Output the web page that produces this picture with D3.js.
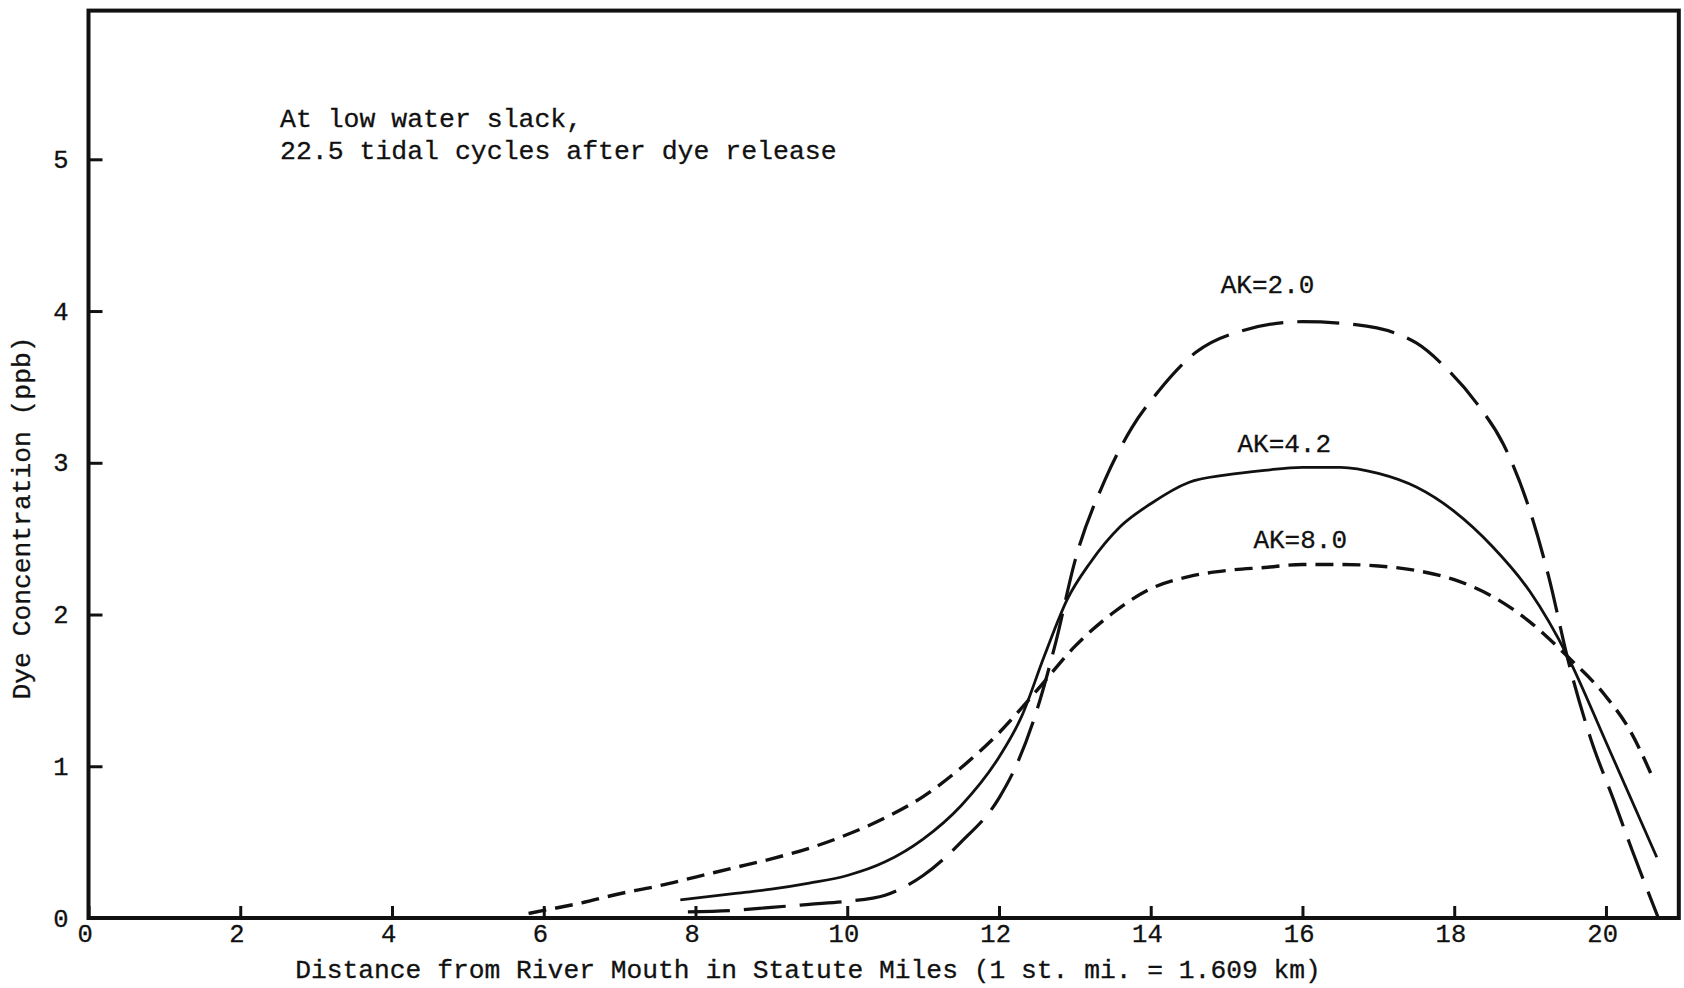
<!DOCTYPE html>
<html>
<head>
<meta charset="utf-8">
<script src="https://cdn.jsdelivr.net/npm/d3@7"></script>
<style>
  body { margin: 0; background: #fff; }
  text { font-family: "Liberation Mono", "Courier New", monospace; fill: #111; }
</style>
</head>
<body>
<script>
// values
const xTicks = [0, 2, 4, 6, 8, 10, 12, 14, 16, 18, 20];
const yTicks = [0, 1, 2, 3, 4, 5];

const ak20X = [7.9, 8.5, 9.0, 9.5, 10.0, 10.5, 11.0, 11.5, 12.0, 12.25, 12.5, 12.75, 13.0, 13.4, 13.75, 14.1, 14.6, 15.2, 16.0, 16.7, 17.5, 17.9, 18.3, 18.65, 19.0, 19.25, 19.5, 19.8, 20.1, 20.35, 20.69];
const ak20Y = [0.04, 0.05, 0.07, 0.09, 0.11, 0.15, 0.28, 0.5, 0.79, 1.03, 1.37, 1.82, 2.35, 2.89, 3.23, 3.47, 3.73, 3.87, 3.93, 3.91, 3.79, 3.62, 3.39, 3.12, 2.68, 2.24, 1.7, 1.18, 0.78, 0.44, 0.0];

const ak42X = [7.8, 8.5, 9.0, 9.5, 10.0, 10.5, 11.0, 11.5, 12.0, 12.3, 12.6, 12.9, 13.2, 13.6, 14.0, 14.5, 15.0, 15.5, 16.0, 16.5, 17.0, 17.5, 18.0, 18.5, 19.0, 19.5, 20.0, 20.67];
const ak42Y = [0.12, 0.16, 0.19, 0.23, 0.28, 0.37, 0.52, 0.74, 1.06, 1.33, 1.73, 2.1, 2.34, 2.58, 2.73, 2.87, 2.92, 2.95, 2.97, 2.97, 2.93, 2.84, 2.68, 2.45, 2.15, 1.72, 1.16, 0.4];

const ak80X = [5.8, 6.0, 6.5, 7.0, 7.5, 8.0, 8.5, 9.0, 9.5, 10.0, 10.5, 11.0, 11.5, 12.0, 12.5, 13.0, 13.5, 14.0, 14.5, 15.0, 15.5, 16.0, 16.5, 17.0, 17.5, 18.0, 18.5, 19.0, 19.5, 20.0, 20.3, 20.63];
const ak80Y = [0.03, 0.05, 0.1, 0.16, 0.21, 0.27, 0.33, 0.39, 0.46, 0.55, 0.66, 0.8, 0.99, 1.22, 1.5, 1.79, 2.01, 2.17, 2.25, 2.29, 2.31, 2.33, 2.33, 2.32, 2.29, 2.23, 2.12, 1.95, 1.72, 1.46, 1.25, 0.91];

const seriesNames = ["AK=2.0", "AK=4.2", "AK=8.0"];
const noteLines = ["At low water slack,", "22.5 tidal cycles after dye release"];
const xTitle = "Distance from River Mouth in Statute Miles (1 st. mi. = 1.609 km)";
const yTitle = "Dye Concentration (ppb)";

const W = 1684, H = 988;
const margin = {top: 10.6, left: 88.5};
const xMax = 20.96, yMax = 5.98;
const width = 1590.3, height = 907.4;

const svg = d3.select("body").append("svg")
    .attr("width", W)
    .attr("height", H);

const g = svg.append("g")
    .attr("transform", `translate(${margin.left},${margin.top})`);

const x = d3.scaleLinear().domain([0, xMax]).range([0, width]);
const y = d3.scaleLinear().domain([0, yMax]).range([height, 0]);

// axes, ticks pointing inward
const xAxis = g.append("g")
    .attr("transform", `translate(0,${height})`)
    .call(d3.axisBottom(x).tickValues(xTicks).tickSize(-12).tickPadding(6).tickFormat(d3.format("d")));
const yAxis = g.append("g")
    .call(d3.axisLeft(y).tickValues(yTicks).tickSize(-14).tickPadding(20).tickFormat(d3.format("d")));

[xAxis, yAxis].forEach(a => {
  a.select(".domain").remove();
  a.selectAll("line").attr("stroke", "#111").attr("stroke-width", 3);
  a.selectAll("text")
    .style("font-family", '"Liberation Mono", monospace')
    .style("font-size", "25.5px")
    .attr("fill", "#111")
    .attr("stroke", "#111").attr("stroke-width", 0.3);
});
xAxis.selectAll("text").attr("dx", "-0.15em");

// plot frame
g.append("rect")
    .attr("x", x(0)).attr("y", y(yMax))
    .attr("width", x(xMax) - x(0)).attr("height", y(0) - y(yMax))
    .attr("fill", "none")
    .attr("stroke", "#111")
    .attr("stroke-width", 4);

const line = d3.line()
    .x(d => x(d[0]))
    .y(d => y(d[1]))
    .curve(d3.curveMonotoneX);

const series = [
  {name: seriesNames[0], pts: d3.zip(ak20X, ak20Y), dash: "42,14", w: 3.2},
  {name: seriesNames[1], pts: d3.zip(ak42X, ak42Y), dash: null, w: 2.8},
  {name: seriesNames[2], pts: d3.zip(ak80X, ak80Y), dash: "18,9", w: 3.4}
];

g.selectAll("path.curve")
  .data(series)
  .enter().append("path")
    .attr("class", "curve")
    .attr("fill", "none")
    .attr("stroke", "#111")
    .attr("stroke-width", d => d.w)
    .attr("stroke-dasharray", d => d.dash)
    .attr("d", d => line(d.pts));

// curve labels (x centre, baseline) in data units
const labelPos = [[15.54, 4.12], [15.76, 3.07], [15.97, 2.44]];
g.selectAll("text.ak")
  .data(series)
  .enter().append("text")
    .attr("class", "ak")
    .attr("x", (d, i) => x(labelPos[i][0]))
    .attr("y", (d, i) => y(labelPos[i][1]))
    .attr("text-anchor", "middle")
    .style("font-size", "26px")
    .attr("stroke", "#111").attr("stroke-width", 0.3)
    .text(d => d.name);

// note in upper left
svg.selectAll("text.note")
  .data(noteLines)
  .enter().append("text")
    .attr("class", "note")
    .attr("x", 280)
    .attr("y", (d, i) => 127 + i * 32)
    .style("font-size", "26.5px")
    .attr("stroke", "#111").attr("stroke-width", 0.3)
    .text(d => d);

svg.append("text")
    .attr("x", 808)
    .attr("y", 978)
    .attr("text-anchor", "middle")
    .style("font-size", "26.3px")
    .attr("stroke", "#111").attr("stroke-width", 0.3)
    .text(xTitle);

svg.append("text")
    .attr("transform", "translate(30,518) rotate(-90)")
    .attr("text-anchor", "middle")
    .style("font-size", "26.3px")
    .attr("stroke", "#111").attr("stroke-width", 0.3)
    .text(yTitle);
</script>
</body>
</html>
